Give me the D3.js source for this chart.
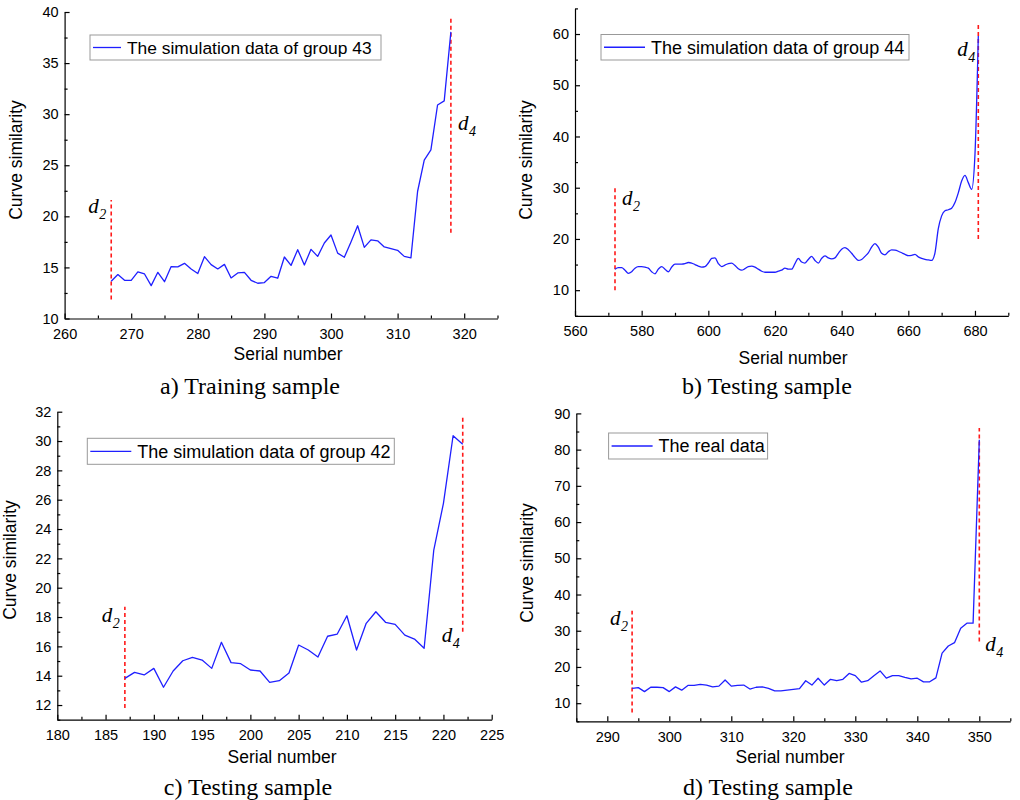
<!DOCTYPE html>
<html>
<head>
<meta charset="utf-8">
<script src="https://cdn.jsdelivr.net/npm/d3@7"></script>
<style>
  body { margin: 0; background: #fff; }
  svg { display: block; }
  .tick text { font-family: "Liberation Sans", Arial, sans-serif; font-size: 14.5px; fill: #000; }
  .tick line, .domain { stroke: #000; stroke-width: 1.2; }
</style>
</head>
<body>
<svg id="chart" width="1020" height="800"></svg>
<script>
// ---- a) training sample: simulation data of group 43, serial 267..318
const firstSerialA = 267;
const valuesA = [13.64, 14.3, 13.74, 13.74, 14.56, 14.36, 13.22, 14.52, 13.6, 15.08,
  15.05, 15.4, 14.85, 14.4, 16.05, 15.27, 14.85, 15.3, 13.97, 14.46,
  14.52, 13.74, 13.45, 13.52, 14.13, 13.94, 16.02, 15.2, 16.74, 15.24,
  16.77, 16.08, 17.39, 18.17, 16.4, 15.99, 17.49, 19.08, 16.96, 17.7,
  17.6, 17.0, 16.83, 16.67, 16.08, 15.93, 22.43, 25.5, 26.5, 30.9,
  31.3, 38.05];
const xTicksA = [260, 270, 280, 290, 300, 310, 320];
const yTicksA = [10, 15, 20, 25, 30, 35, 40];
const markersA = { d2: [267, 11.85, 21.6], d4: [318, 18.4, 39.4] };

// ---- b) testing sample: simulation data of group 44, serial 572..681
const firstSerialB = 572;
const valuesB = [14.1, 14.4, 14.4, 13.9, 13.3, 13.6, 14.3, 14.6, 14.6, 14.5,
  14.3, 13.6, 13.2, 14.1, 14.6, 14.1, 13.6, 14.5, 15.1, 15.1,
  15.1, 15.2, 15.4, 15.3, 15.0, 14.7, 14.5, 14.6, 15.3, 16.2,
  16.3, 15.2, 14.6, 14.9, 15.2, 15.3, 14.8, 14.2, 13.9, 14.2,
  14.6, 14.7, 14.5, 14.1, 13.7, 13.5, 13.5, 13.5, 13.5, 13.7,
  13.9, 14.3, 14.1, 14.1, 15.2, 16.2, 15.5, 15.3, 16.0, 16.6,
  15.8, 15.3, 16.2, 16.7, 16.3, 16.1, 16.3, 17.2, 18.0, 18.3,
  17.9, 17.2, 16.4, 15.8, 16.0, 16.6, 17.3, 18.4, 19.1, 18.4,
  17.2, 16.9, 17.5, 17.85, 17.8, 17.6, 17.3, 17.0, 16.75, 16.8,
  17.0, 16.5, 16.2, 16.0, 15.9, 15.8, 17.3, 22.0, 24.5, 25.5,
  25.7, 26.0, 27.1, 29.0, 31.3, 32.4, 31.0, 29.7, 36.5, 59.6];
const xTicksB = [560, 580, 600, 620, 640, 660, 680];
const yTicksB = [10, 20, 30, 40, 50, 60];
const markersB = { d2: [572, 10, 30], d4: [681, 20, 62] };

// ---- c) testing sample: simulation data of group 42, serial 187..222
const firstSerialC = 187;
const valuesC = [13.82, 14.23, 14.05, 14.5, 13.21, 14.32, 15.02, 15.25, 15.07, 14.5,
  16.28, 14.89, 14.82, 14.39, 14.32, 13.55, 13.66, 14.18, 16.09, 15.75,
  15.27, 16.69, 16.84, 18.09, 15.75, 17.57, 18.36, 17.64, 17.5, 16.77,
  16.5, 15.87, 22.57, 25.75, 30.36, 29.78];
const xTicksC = [180, 185, 190, 195, 200, 205, 210, 215, 220, 225];
const yTicksC = [12, 14, 16, 18, 20, 22, 24, 26, 28, 30, 32];
const markersC = { d2: [187, 11.8, 18.7], d4: [222, 17, 31.6] };

// ---- d) testing sample: the real data, serial 294..350
const firstSerialD = 294;
const valuesD = [14.1, 14.3, 13.2, 14.4, 14.4, 14.3, 13.2, 14.5, 13.6, 14.9,
  14.9, 15.2, 15.0, 14.5, 14.7, 16.4, 14.7, 14.9, 15.0, 13.9,
  14.4, 14.5, 14.1, 13.4, 13.4, 13.6, 13.8, 14.0, 16.2, 15.0,
  16.9, 15.0, 16.6, 16.2, 16.6, 18.2, 17.6, 15.8, 16.2, 17.6,
  18.9, 16.9, 17.6, 17.6, 17.1, 16.7, 16.9, 15.9, 15.9, 17.0,
  23.8, 25.8, 26.7, 30.7, 32.1, 32.1, 82.7];
const xTicksD = [290, 300, 310, 320, 330, 340, 350];
const yTicksD = [10, 20, 30, 40, 50, 60, 70, 80, 90];
const markersD = { d2: [294, 7.4, 35.5], d4: [350, 27, 86] };

const panels = [
  {
    first: firstSerialA, values: valuesA, xTicks: xTicksA, yTicks: yTicksA, markers: markersA,
    xDomain: [260, 325], yDomain: [10, 40], xMinorStep: 5, yMinorStep: 2.5,
    frame: { left: 64.6, right: 497.5, top: 12, bottom: 318.5 },
    curve: d3.curveLinear,
    legendText: "The simulation data of group 43", legendFont: 17.4,
    legend: { x: 90, y: 35, w: 291, h: 25, line: 28 },
    yTitle: { x: 21.5, y: 160 }, xTitle: { x: 288, y: 360 },
    caption: "a) Training sample", capPos: { x: 250, y: 394 },
    d2Label: { dx: -23, y: 213 }, d4Label: { dx: 7, y: 130 }
  },
  {
    first: firstSerialB, values: valuesB, xTicks: xTicksB, yTicks: yTicksB, markers: markersB,
    xDomain: [560, 690], yDomain: [5, 65], xMinorStep: 10, yMinorStep: 5,
    frame: { left: 575, right: 1008.3, top: 8.4, bottom: 315.8 },
    curve: d3.curveMonotoneX,
    legendText: "The simulation data of group 44", legendFont: 18,
    legend: { x: 601, y: 34.5, w: 308, h: 25.5, line: 41 },
    yTitle: { x: 532, y: 160 }, xTitle: { x: 793, y: 364 },
    caption: "b) Testing sample", capPos: { x: 767, y: 394 },
    d2Label: { dx: 7, y: 205 }, d4Label: { dx: -21, y: 56 }
  },
  {
    first: firstSerialC, values: valuesC, xTicks: xTicksC, yTicks: yTicksC, markers: markersC,
    xDomain: [180, 225], yDomain: [11, 32], xMinorStep: 2.5, yMinorStep: 1,
    frame: { left: 57.3, right: 491.7, top: 411.7, bottom: 719.7 },
    curve: d3.curveLinear,
    legendText: "The simulation data of group 42", legendFont: 18,
    legend: { x: 87.3, y: 438.3, w: 307, h: 26, line: 41 },
    yTitle: { x: 16, y: 560 }, xTitle: { x: 282, y: 763 },
    caption: "c) Testing sample", capPos: { x: 248, y: 795 },
    d2Label: { dx: -23, y: 622 }, d4Label: { dx: -21, y: 642 }
  },
  {
    first: firstSerialD, values: valuesD, xTicks: xTicksD, yTicks: yTicksD, markers: markersD,
    xDomain: [285, 355], yDomain: [5, 90], xMinorStep: 5, yMinorStep: 5,
    frame: { left: 576.3, right: 1010.3, top: 413.4, bottom: 721.3 },
    curve: d3.curveLinear,
    legendText: "The real data", legendFont: 18,
    legend: { x: 608.6, y: 433, w: 159, h: 26, line: 41 },
    yTitle: { x: 533, y: 563 }, xTitle: { x: 790, y: 763 },
    caption: "d) Testing sample", capPos: { x: 768, y: 795 },
    d2Label: { dx: -22, y: 625 }, d4Label: { dx: 6, y: 651 }
  }
];

const svg = d3.select("#chart");
const sans = '"Liberation Sans", Arial, sans-serif';
const serif = '"Liberation Serif", "Times New Roman", serif';

function minorTicks(domain, step, majors) {
  return d3.range(domain[0], domain[1] + 1e-9, step)
    .filter(v => !majors.some(m => Math.abs(m - v) < 1e-6));
}

function drawPanel(p) {
  const f = p.frame;
  const x = d3.scaleLinear().domain(p.xDomain).range([f.left, f.right]);
  const y = d3.scaleLinear().domain(p.yDomain).range([f.bottom, f.top]);
  const g = svg.append("g");

  // minor ticks (inward)
  g.append("g").attr("transform", `translate(0,${f.bottom})`)
    .call(d3.axisBottom(x).tickValues(minorTicks(p.xDomain, p.xMinorStep, p.xTicks))
      .tickSize(-3).tickFormat(""))
    .call(s => s.select(".domain").remove());
  g.append("g").attr("transform", `translate(${f.left},0)`)
    .call(d3.axisLeft(y).tickValues(minorTicks(p.yDomain, p.yMinorStep, p.yTicks))
      .tickSize(-3).tickFormat(""))
    .call(s => s.select(".domain").remove());

  // major ticks and axis lines
  g.append("g").attr("transform", `translate(0,${f.bottom})`)
    .call(d3.axisBottom(x).tickValues(p.xTicks).tickSize(-5).tickSizeOuter(0)
      .tickPadding(10).tickFormat(d3.format("d")));
  g.append("g").attr("transform", `translate(${f.left},0)`)
    .call(d3.axisLeft(y).tickValues(p.yTicks).tickSize(-5).tickSizeOuter(0)
      .tickPadding(6).tickFormat(d3.format("d")));

  // threshold markers d2 / d4
  for (const key of ["d2", "d4"]) {
    const [s, lo, hi] = p.markers[key];
    g.append("line")
      .attr("x1", x(s)).attr("x2", x(s))
      .attr("y1", y(lo)).attr("y2", y(hi))
      .attr("stroke", "#ff1a1a").attr("stroke-width", 1.6)
      .attr("stroke-dasharray", "4,3");
    const lab = key === "d2" ? p.d2Label : p.d4Label;
    const lx = x(s) + lab.dx;
    g.append("text").attr("x", lx).attr("y", lab.y)
      .attr("font-family", serif).attr("font-style", "italic")
      .attr("font-size", 21).text("d");
    g.append("text").attr("x", lx + 11).attr("y", lab.y + 6)
      .attr("font-family", serif).attr("font-style", "italic")
      .attr("font-size", 14).text(key.slice(1));
  }

  // data curve
  const line = d3.line()
    .x((d, i) => x(p.first + i))
    .y(d => y(d))
    .curve(p.curve);
  g.append("path").datum(p.values)
    .attr("d", line)
    .attr("fill", "none")
    .attr("stroke", "#1f1fff")
    .attr("stroke-width", 1.3)
    .attr("stroke-linejoin", "round");

  // legend
  const L = p.legend;
  g.append("rect").attr("x", L.x).attr("y", L.y).attr("width", L.w).attr("height", L.h)
    .attr("fill", "#fff").attr("stroke", "#999").attr("stroke-width", 1);
  g.append("line")
    .attr("x1", L.x + 3).attr("x2", L.x + 3 + L.line)
    .attr("y1", L.y + L.h / 2).attr("y2", L.y + L.h / 2)
    .attr("stroke", "#1f1fff").attr("stroke-width", 1.3);
  g.append("text")
    .attr("x", L.x + 9 + L.line).attr("y", L.y + L.h / 2 + p.legendFont * 0.36)
    .attr("font-family", sans).attr("font-size", p.legendFont)
    .text(p.legendText);

  // axis titles
  g.append("text")
    .attr("transform", `translate(${p.yTitle.x},${p.yTitle.y}) rotate(-90)`)
    .attr("text-anchor", "middle")
    .attr("font-family", sans).attr("font-size", 17.5)
    .text("Curve similarity");
  g.append("text")
    .attr("x", p.xTitle.x).attr("y", p.xTitle.y)
    .attr("text-anchor", "middle")
    .attr("font-family", sans).attr("font-size", 17.5)
    .text("Serial number");

  // caption
  g.append("text")
    .attr("x", p.capPos.x).attr("y", p.capPos.y)
    .attr("text-anchor", "middle")
    .attr("font-family", serif).attr("font-size", 24)
    .text(p.caption);
}

panels.forEach(drawPanel);
</script>
</body>
</html>
